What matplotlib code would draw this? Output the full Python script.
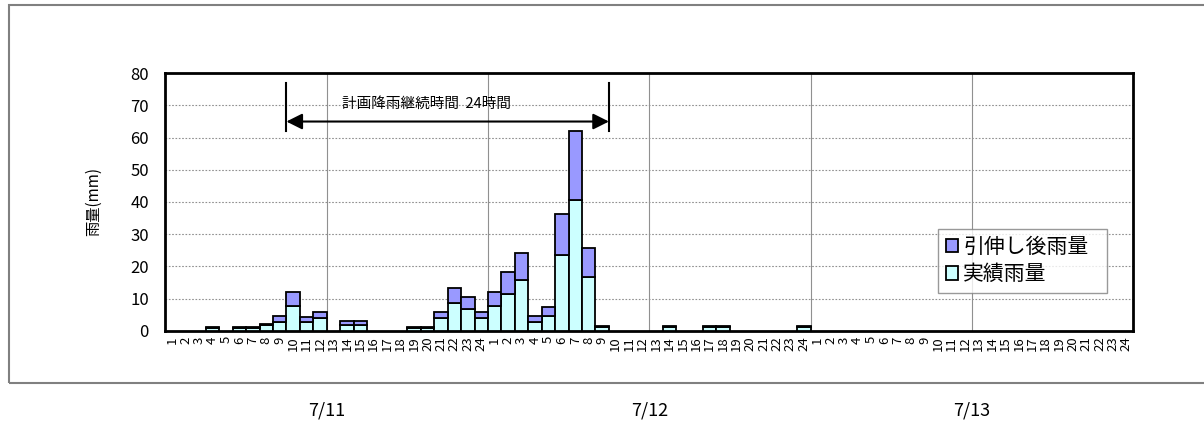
import numpy as np
import matplotlib
matplotlib.use("Agg")
import matplotlib.pyplot as plt
from matplotlib.patches import Rectangle

plt.rcParams['font.family'] = ['Noto Sans CJK JP', 'DejaVu Sans']

# hourly rainfall (mm), 3 days x 24 hours
days = ["7/11", "7/12", "7/13"]
hour_labels = [str(h) for h in range(1, 25)] * 3

actual = [
    0, 0, 0, 0.7, 0, 0.7, 0.7, 1.8, 2.8, 7.8, 2.8, 3.8,
    0, 1.9, 1.9, 0, 0, 0, 0.8, 0.8, 3.8, 8.5, 6.6, 3.8,
    7.8, 11.4, 15.7, 2.8, 4.7, 23.5, 40.6, 16.8, 1.0, 0, 0, 0,
    0, 1.0, 0, 0, 1.0, 1.0, 0, 0, 0, 0, 0, 1.0,
    0, 0, 0, 0, 0, 0, 0, 0, 0, 0, 0, 0,
    0, 0, 0, 0, 0, 0, 0, 0, 0, 0, 0, 0,
]
stretched = [
    0, 0, 0, 1.1, 0, 1.1, 1.1, 2.2, 4.6, 12.1, 4.3, 5.9,
    0, 3.0, 3.0, 0, 0, 0, 1.2, 1.2, 5.9, 13.4, 10.4, 5.7,
    12.1, 18.1, 24.2, 4.5, 7.5, 36.2, 62.1, 25.6, 1.5, 0, 0, 0,
    0, 1.5, 0, 0, 1.5, 1.5, 0, 0, 0, 0, 0, 1.5,
    0, 0, 0, 0, 0, 0, 0, 0, 0, 0, 0, 0,
    0, 0, 0, 0, 0, 0, 0, 0, 0, 0, 0, 0,
]

actual = np.array(actual)
stretched = np.array(stretched)
x = np.arange(len(actual))

fig = plt.figure(figsize=(12.04, 4.22), dpi=100)
fig.patches.append(Rectangle((0.0075, 0.092), 1.1, 0.896, transform=fig.transFigure,
                             fill=False, edgecolor='#808080', linewidth=1.5))
ax = fig.add_axes([0.1374, 0.2164, 0.8037, 0.61])

mask = actual > 0
ax.bar(x[mask], actual[mask], width=1.0, color='#CCFFFF', edgecolor='black',
       linewidth=1.3, label='実績雨量', zorder=3)
ax.bar(x[mask], (stretched - actual)[mask], bottom=actual[mask], width=1.0,
       color='#9999FF', edgecolor='black', linewidth=1.3, label='引伸し後雨量', zorder=3)

ax.set_xlim(-0.5, len(x) - 0.5)
ax.set_ylim(0, 80)
ax.set_yticks(range(0, 81, 10))
ax.set_xticks(x)
ax.set_xticklabels(hour_labels, rotation=90, fontsize=9.5, va='top')
ax.tick_params(axis='x', length=0, pad=4)
ax.tick_params(axis='y', length=0, labelsize=12, pad=12)

for y in range(10, 80, 10):
    ax.axhline(y, color='#909090', linestyle=(0, (1.5, 1.5)), linewidth=0.8, zorder=1)
for xv in range(12, 72, 12):
    ax.axvline(xv - 0.5, color='#909090', linewidth=0.8, zorder=1)

for s in ax.spines.values():
    s.set_linewidth(2)

ax.set_ylabel('雨量(mm)', fontsize=11, labelpad=20)

# planned rainfall duration annotation
ax.plot([8.5, 8.5], [62, 77], color='black', linewidth=1.5, zorder=4)
ax.plot([32.5, 32.5], [62, 77], color='black', linewidth=1.5, zorder=4)
ax.annotate('', xy=(32.5, 65), xytext=(8.5, 65),
            arrowprops=dict(arrowstyle='<|-|>', color='black', lw=1.5,
                            mutation_scale=24, shrinkA=0, shrinkB=0), zorder=4)
ax.text(18.9, 70.5, '計画降雨継続時間  24時間', ha='center', va='center', fontsize=10.5)

handles, labels = ax.get_legend_handles_labels()
leg = fig.legend(handles[::-1], labels[::-1], loc='lower left',
                 bbox_to_anchor=(928 / 1204, 1 - 303 / 422, 189 / 1204, 73 / 422),
                 mode='expand', fontsize=15, frameon=True, fancybox=False,
                 edgecolor='#808080', handlelength=0.6, handleheight=0.6,
                 handletextpad=0.25, borderpad=0.35, labelspacing=0.25)
leg.get_frame().set_linewidth(1.0)

for i, d in enumerate(days):
    cx = 0.1374 + 0.8037 * (i * 24 + 12) / 72
    fig.text(cx, 0.028, d, ha='center', va='center', fontsize=13)

fig.savefig('out.png', dpi=100)
